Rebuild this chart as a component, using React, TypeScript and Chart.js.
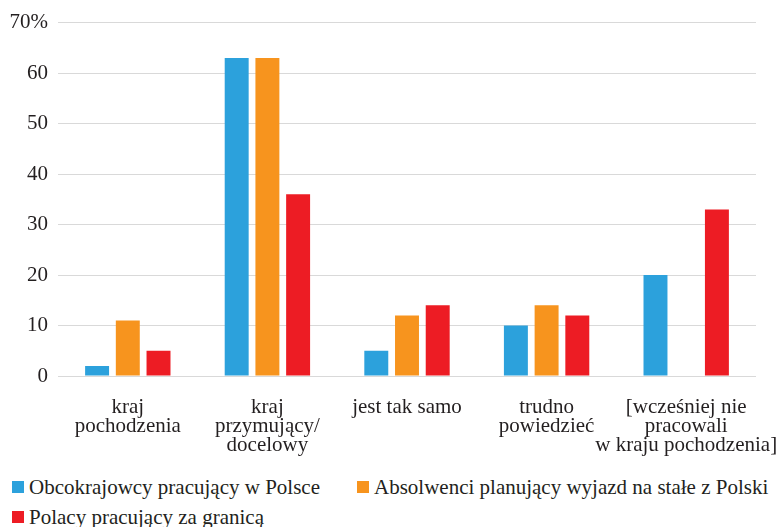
import React, { useEffect, useRef } from "react";
import { Chart, registerables } from "chart.js";

Chart.register(...registerables);

const categories: (string | string[])[] = [
  ["kraj", "pochodzenia"],
  ["kraj", "przymujący/", "docelowy"],
  "jest tak samo",
  ["trudno", "powiedzieć"],
  ["[wcześniej nie", "pracowali", "w kraju pochodzenia]"],
];

const seriesNames = [
  "Obcokrajowcy pracujący w Polsce",
  "Absolwenci planujący wyjazd na stałe z Polski",
  "Polacy pracujący za granicą",
];

const obcokrajowcy: (number | null)[] = [2, 63, 5, 10, 20];
const absolwenci: (number | null)[] = [11, 63, 12, 14, null];
const polacy: (number | null)[] = [5, 36, 14, 12, 33];

const colors = ["#2ca1dc", "#f7941e", "#ed1c24"];

const yTicks = [0, 10, 20, 30, 40, 50, 60, 70];

const FONT = '"Liberation Serif", "Times New Roman", Times, serif';
const TEXT = "#231f20";

export default function App() {
  const ref = useRef<HTMLCanvasElement | null>(null);

  useEffect(() => {
    if (!ref.current) return;
    let chart: Chart | null = null;
    let cancelled = false;
    const build = () => {
      if (cancelled || !ref.current) return;
      chart = new Chart(ref.current, {
        type: "bar",
        data: {
          labels: categories,
          datasets: [obcokrajowcy, absolwenci, polacy].map((d, i) => ({
            label: seriesNames[i],
            data: d,
            backgroundColor: colors[i],
            borderWidth: 0,
            categoryPercentage: 0.66,
            barPercentage: 0.78,
          })),
        },
        options: {
          animation: false,
          responsive: false,
          maintainAspectRatio: false,
          layout: { padding: { top: 21, right: 26, left: 0, bottom: 0 } },
          plugins: {
            legend: { display: false },
            tooltip: { enabled: false },
          },
          scales: {
            x: {
              grid: { display: false, drawTicks: false },
              border: { display: false },
              ticks: {
                color: TEXT,
                padding: 22,
                maxRotation: 0,
                autoSkip: false,
                font: { family: FONT, size: 21, lineHeight: "19px" },
              },
              afterFit: (s: any) => {
                s.height = 94;
                s.paddingLeft = 0;
                s.paddingRight = 0;
              },
            },
            y: {
              min: 0,
              max: 70,
              afterBuildTicks: (s: any) => {
                s.ticks = yTicks.map((v) => ({ value: v }));
              },
              grid: { color: "#d9d9d9", lineWidth: 1, drawTicks: false },
              border: { display: false },
              ticks: {
                color: TEXT,
                padding: 10,
                font: { family: FONT, size: 21 },
                callback: (v: any) => (Number(v) === 70 ? "70%" : String(v)),
              },
              afterFit: (s: any) => {
                s.width = 58;
              },
            },
          },
        },
      });
    };
    const fonts = (document as any).fonts;
    if (fonts && fonts.load) {
      fonts.load('21px "Liberation Serif"').then(build, build);
    } else {
      build();
    }
    return () => {
      cancelled = true;
      if (chart) chart.destroy();
    };
  }, []);

  const legendItem = (i: number, left: number, top: number) => (
    <div
      key={i}
      style={{
        position: "absolute",
        left,
        top,
        height: 30,
        display: "flex",
        alignItems: "center",
        whiteSpace: "nowrap",
        fontFamily: FONT,
        fontSize: 21,
        color: TEXT,
      }}
    >
      <span
        style={{
          display: "inline-block",
          width: 12,
          height: 12,
          background: colors[i],
          marginRight: 5,
        }}
      />
      <span>{seriesNames[i]}</span>
    </div>
  );

  return (
    <div
      style={{
        position: "fixed",
        left: 0,
        top: 0,
        width: 782,
        height: 527,
        background: "#fff",
        overflow: "hidden",
      }}
    >
      <canvas ref={ref} width={782} height={470} style={{ position: "absolute", left: 0, top: 0 }} />
      {legendItem(0, 12, 472)}
      {legendItem(1, 357, 472)}
      {legendItem(2, 12, 502)}
    </div>
  );
}
